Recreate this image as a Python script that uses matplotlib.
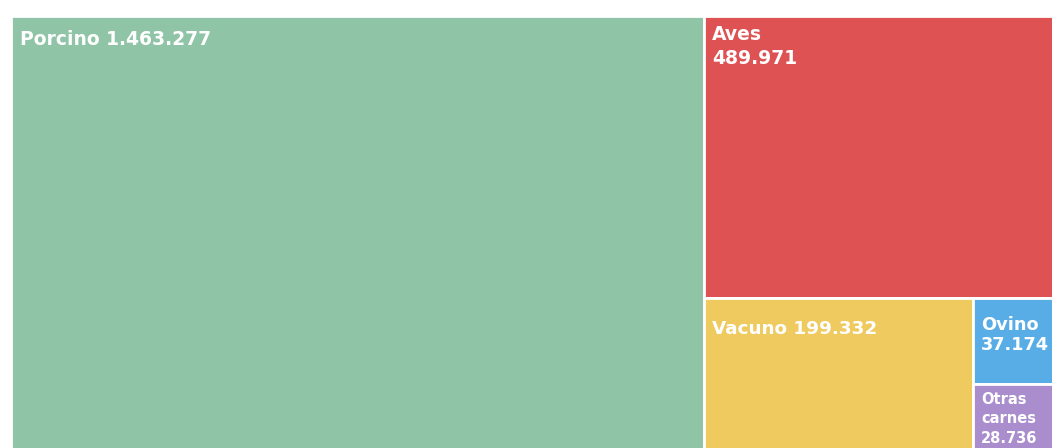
import matplotlib.pyplot as plt
from matplotlib.patches import Rectangle

labels = ["Porcino", "Aves", "Vacuno", "Ovino", "Otras\ncarnes"]
values = [1463277, 489971, 199332, 37174, 28736]
colors = ["#8fc4a7", "#de5254", "#efca5f", "#58ade6", "#a98dcc"]
value_text = ["1.463.277", "489.971", "199.332", "37.174", "28.736"]


def worst(row, side):
    s = sum(row)
    return max(max(side * side * r / (s * s), s * s / (side * side * r)) for r in row)


def squarify(areas, x, y, w, h):
    rects = []
    areas = list(areas)
    while areas:
        side = min(w, h)
        row = [areas.pop(0)]
        while areas and worst(row + [areas[0]], side) <= worst(row, side):
            row.append(areas.pop(0))
        s = sum(row)
        if w >= h:
            cw = s / h
            yy = y
            for a in row:
                rects.append((x, yy, cw, a / cw))
                yy += a / cw
            x += cw
            w -= cw
        else:
            ch = s / w
            xx = x
            for a in row:
                rects.append((xx, y, a / ch, ch))
                xx += a / ch
            y += ch
            h -= ch
    return rects


W, H = 1051, 434
total = sum(values)
areas = [v / total * W * H for v in values]
rects = squarify(areas, 0, 0, W, H)

fig = plt.figure(figsize=(10.52, 4.48), dpi=100)
ax = fig.add_axes([11 / 1052, -2 / 448, W / 1052, H / 448])
ax.set_xlim(0, W)
ax.set_ylim(H, 0)
ax.axis("off")

# label layout: (separator, x pad, y pad, font size, line spacing)
label_style = [(" ", 9, 14, 13.5, 1.1), ("\n", 8, 9, 13.5, 1.3), (" ", 8, 22, 13.2, 1.1),
               ("\n", 8, 18, 12.8, 1.2), ("\n", 8, 8, 10.5, 1.4)]

for (x, y, w, h), lab, val, c, st in zip(rects, labels, value_text, colors, label_style):
    ax.add_patch(Rectangle((x, y), w, h, facecolor=c, edgecolor="white", linewidth=2))
    sep, px, py, fs, ls = st
    ax.text(x + px, y + py, lab + sep + val, color="white", fontsize=fs,
            fontweight="bold", family="DejaVu Sans",
            ha="left", va="top", linespacing=ls)

fig.savefig("out.png", dpi=100)
plt.close(fig)
